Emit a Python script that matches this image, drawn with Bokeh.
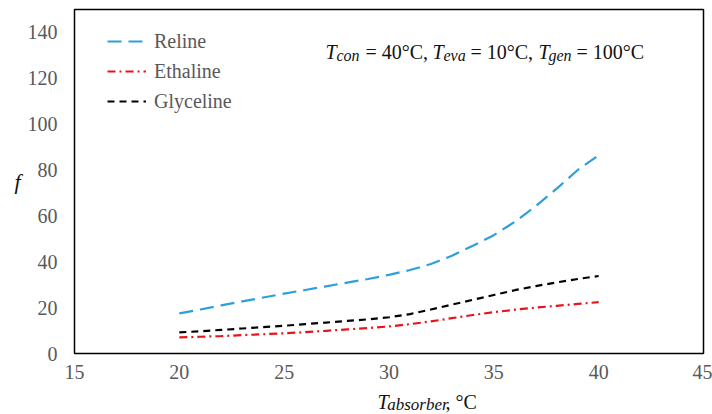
from bokeh.plotting import figure
from bokeh.models import Label, Legend, LegendItem, Range1d, FixedTicker
from bokeh.layouts import column
from bokeh.embed import file_html
from bokeh.resources import INLINE

# ---- data ----
t_absorber = [20, 21, 22, 23, 24, 25, 26, 27, 28, 29, 30,
              31, 32, 33, 34, 35, 36, 37, 38, 39, 40]
reline = [17.5, 19.2, 21.0, 22.7, 24.4, 26.1, 27.7, 29.3, 30.9, 32.5, 34.3,
          36.4, 39.0, 42.6, 47.0, 51.6, 57.4, 64.3, 71.9, 80.0, 86.5]
ethaline = [7.0, 7.3, 7.6, 8.0, 8.4, 8.8, 9.3, 9.9, 10.5, 11.1, 11.8,
            12.8, 14.0, 15.4, 16.8, 18.0, 19.1, 20.0, 20.8, 21.6, 22.4]
glyceline = [9.2, 9.7, 10.3, 10.9, 11.5, 12.1, 12.8, 13.5, 14.2, 14.9, 15.8,
             17.2, 19.2, 21.3, 23.4, 25.5, 27.6, 29.4, 31.0, 32.5, 33.8]

x_ticks = [15, 20, 25, 30, 35, 40, 45]
y_ticks = [0, 20, 40, 60, 80, 100, 120, 140]

SERIF = "'Liberation Serif'"
W = 712
H_MAIN, H_TITLE = 390, 24
L, R, T, B = 74, 9, 9, 37
X0, X1, Y0, Y1 = 15, 45, 0, 150
SHIFT = 8  # compensation for the label baseline placement

p = figure(width=W, height=H_MAIN, x_range=Range1d(X0, X1), y_range=Range1d(Y0, Y1),
           output_backend="svg", toolbar_location=None,
           min_border_left=L, min_border_right=R, min_border_top=T, min_border_bottom=B)
p.xgrid.visible = False
p.ygrid.visible = False
p.outline_line_color = "black"
p.outline_line_width = 1.5
p.background_fill_color = "white"
p.border_fill_color = "white"

for ax in (p.xaxis[0], p.yaxis[0]):
    ax.axis_line_color = None
    ax.major_tick_line_color = None
    ax.minor_tick_line_color = None
    ax.major_tick_out = 0
    ax.major_tick_in = 0
    ax.major_label_text_font = SERIF
    ax.major_label_text_font_size = "20px"
    ax.major_label_text_color = "#595959"
p.xaxis[0].ticker = FixedTicker(ticks=x_ticks)
p.yaxis[0].ticker = FixedTicker(ticks=y_ticks)
p.xaxis[0].major_label_standoff = 11
p.yaxis[0].major_label_standoff = 17

p.yaxis[0].axis_label = "f"
p.yaxis[0].axis_label_orientation = "horizontal"
p.yaxis[0].axis_label_standoff = 4
p.yaxis[0].axis_label_text_font = SERIF
p.yaxis[0].axis_label_text_font_style = "italic"
p.yaxis[0].axis_label_text_font_size = "22px"
p.yaxis[0].axis_label_text_color = "#111111"

r1 = p.line(t_absorber, reline, line_color="#2E9FDA", line_width=2.2, line_dash="14 7")
r2 = p.line(t_absorber, ethaline, line_color="#E8141B", line_width=2.2, line_dash="8 4 2 4")
r3 = p.line(t_absorber, glyceline, line_color="black", line_width=2.2, line_dash="7 5")

legend = Legend(items=[LegendItem(label="Reline", renderers=[r1]),
                       LegendItem(label="Ethaline", renderers=[r2]),
                       LegendItem(label="Glyceline", renderers=[r3])],
                location=(33, 240), padding=0, margin=0, spacing=6,
                glyph_width=39, glyph_height=24, label_height=24, label_standoff=8,
                label_text_font=SERIF, label_text_font_size="20px",
                label_text_color="#595959", border_line_color=None,
                background_fill_alpha=0)
p.add_layout(legend, "center")


def dx(px):
    return X0 + (px - L) * (X1 - X0) / (W - L - R)


def dy(py):
    return Y0 + (H_MAIN - B - (py - SHIFT)) * (Y1 - Y0) / (H_MAIN - T - B)


def lab(fig, txt, x, y, size, italic=False, color="#111111"):
    fig.add_layout(Label(x=x, y=y, text=txt, text_font=SERIF,
                         text_font_size=size, text_font_style="italic" if italic else "normal",
                         text_align="left", text_baseline="alphabetic", text_color=color))


# annotation: T_con = 40°C, T_eva = 10°C, T_gen = 100°C
lab(p, "T", dx(325), dy(59), "20px", True)
lab(p, "con", dx(336), dy(63), "16px", True)
lab(p, "= 40°C,", dx(365), dy(59), "20px")
lab(p, "T", dx(432), dy(59), "20px", True)
lab(p, "eva", dx(443), dy(63), "16px", True)
lab(p, "= 10°C,", dx(470), dy(59), "20px")
lab(p, "T", dx(538), dy(59), "20px", True)
lab(p, "gen", dx(548), dy(63), "16px", True)
lab(p, "= 100°C", dx(576), dy(59), "20px")

# x axis title strip: T_absorber, °C  (coordinates = page pixels)
p2 = figure(width=W, height=H_TITLE, x_range=Range1d(0, W), y_range=Range1d(H_MAIN + H_TITLE, H_MAIN),
            output_backend="svg", toolbar_location=None, x_axis_location=None, y_axis_location=None,
            min_border_left=0, min_border_right=0, min_border_top=0, min_border_bottom=0)
p2.xgrid.visible = False
p2.ygrid.visible = False
p2.outline_line_color = None
p2.border_fill_color = "white"
p2.background_fill_color = "white"

lab(p2, "T", 343, 409 - SHIFT, "20px", True)
lab(p2, "absorber", 354, 412 - SHIFT, "17px", True)
lab(p2, ", °C", 420, 409 - SHIFT, "20px")

layout = column(p, p2, spacing=0)
open("out.html", "w").write(file_html(layout, INLINE))
